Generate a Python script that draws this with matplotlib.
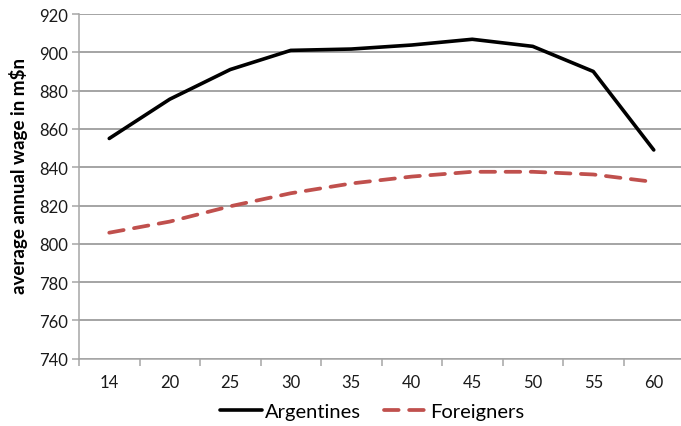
import matplotlib.pyplot as plt
from matplotlib.ticker import FixedLocator, NullFormatter

ages = ["14", "20", "25", "30", "35", "40", "45", "50", "55", "60"]
argentines = [855, 875.5, 891, 901, 901.7, 903.8, 906.8, 903.1, 890, 849]
foreigners = [805.8, 811.6, 819.6, 826.4, 831.5, 835.1, 837.6, 837.6, 836.2, 832.3]

plt.rcParams['font.family'] = ['Lato', 'DejaVu Sans']
grid_col = '#8c8c8c'
axis_col = '#a6a6a6'

fig = plt.figure(figsize=(6.81, 4.27), dpi=100)
ax = fig.add_axes([79 / 681, 1 - 359.7 / 427, 605 / 681, 344.7 / 427])

x = list(range(len(ages)))
ax.plot(x, argentines, color='black', lw=2.6, label='Argentines',
        solid_capstyle='round', solid_joinstyle='round')
ax.plot(x, foreigners, color='#c0504d', lw=2.7, label='Foreigners',
        linestyle=(0, (3.9, 2.8)), dash_capstyle='round')

ax.set_xlim(-0.5, len(ages) - 0.5)
ax.set_ylim(740, 920)
ax.set_yticks(range(740, 921, 20))
ax.grid(axis='y', color=grid_col, lw=1.1)
ax.set_axisbelow(True)

# category labels centred, tick marks between categories
ax.xaxis.set_major_locator(FixedLocator([i - 0.5 for i in range(len(ages) + 1)]))
ax.xaxis.set_major_formatter(NullFormatter())
ax.xaxis.set_minor_locator(FixedLocator(x))
ax.set_xticklabels(ages, minor=True)
ax.tick_params(axis='x', which='minor', length=0, pad=11, labelsize=12, labelcolor='#1a1a1a')
ax.tick_params(axis='x', which='major', length=5, width=1.1, color=axis_col, direction='out')
ax.tick_params(axis='y', length=5, width=1.1, color=axis_col, labelsize=12, pad=3, labelcolor='#1a1a1a')

for side in ['top', 'right']:
    ax.spines[side].set_visible(False)
for side in ['left', 'bottom']:
    ax.spines[side].set_color(axis_col)
    ax.spines[side].set_linewidth(1.1)

ax.set_ylabel(r'average annual wage in m\$n', fontsize=13.5, fontweight='bold')
ax.yaxis.set_label_coords(-0.085, 0.533)

fig.legend(loc='center', bbox_to_anchor=(0.546, 0.033), ncol=2, frameon=False,
           fontsize=14.5, handlelength=2.1, handletextpad=0.15, columnspacing=1.15)

fig.savefig('out.png', dpi=100)
